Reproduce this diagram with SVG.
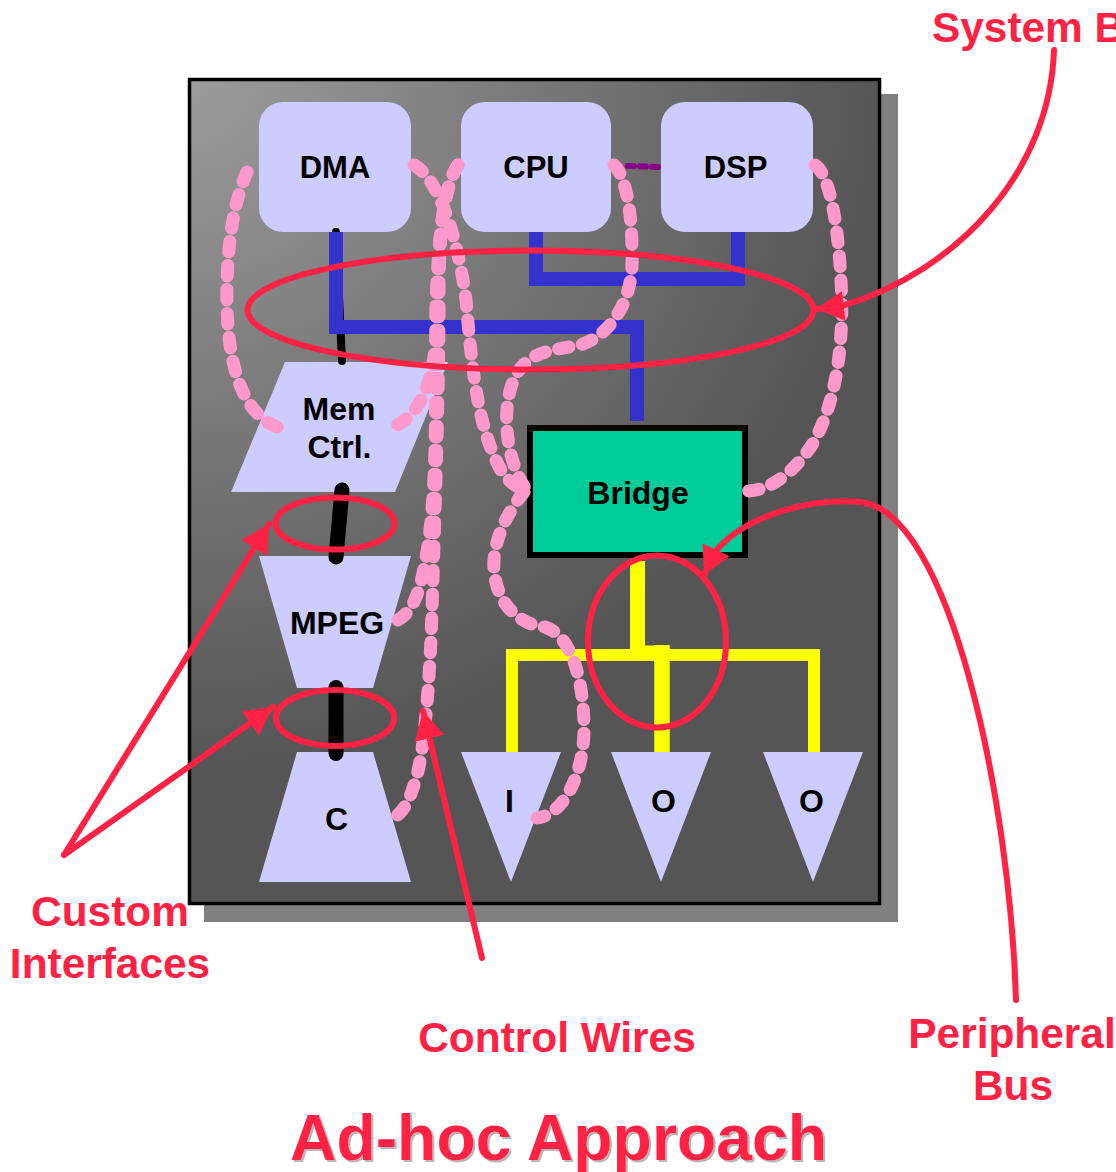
<svg xmlns="http://www.w3.org/2000/svg" width="1116" height="1172" viewBox="0 0 1116 1172">
<style>
text{font-family:"Liberation Sans",Arial,sans-serif;font-weight:bold}
.n{font-size:32px;fill:#000;text-anchor:middle}
.t{font-size:31px}
.s{fill:#ccf}
.l{font-size:42.400px;fill:#f24;text-anchor:middle}
.w{fill:none;stroke:#f9c;stroke-width:13;stroke-linecap:round;stroke-linejoin:round;stroke-dasharray:10.500 13.500}
.b{fill:none;stroke:#33c;stroke-width:14}
.k{fill:none;stroke:#000;stroke-linecap:round}
.e{fill:none;stroke:#f24;stroke-width:6}
.a{fill:none;stroke:#f24;stroke-width:6;stroke-linecap:round}
</style>
<defs>
<radialGradient id="bg" gradientUnits="userSpaceOnUse" cx="190" cy="80" r="770"><stop offset="0" stop-color="#9c9c9c"/><stop offset=".9" stop-color="#555"/></radialGradient>
<marker id="h" markerUnits="userSpaceOnUse" markerWidth="32" markerHeight="32" refX="28" refY="15" orient="auto"><path d="M0 0L28 15L0 30Z" fill="#f24"/></marker>
<filter id="sh" x="-5%" y="-10%" width="110%" height="125%"><feDropShadow dx="2" dy="2" stdDeviation=".5" flood-color="#b8b8b8"/></filter>
</defs>
<g id="panel">
<rect x="204" y="94" width="694" height="828" fill="#808080"/>
<rect x="189.500" y="79.500" width="690" height="824" fill="url(#bg)" stroke="#000" stroke-width="3.500"/>
</g>
<g id="dma"><rect class="s" x="259" y="102" width="152" height="130" rx="24"/><text class="n t" x="335" y="178">DMA</text></g>
<g id="cpu"><rect class="s" x="461" y="102" width="150" height="130" rx="24"/><text class="n t" x="536" y="178">CPU</text></g>
<g id="dsp"><rect class="s" x="661" y="102" width="152" height="130" rx="24"/><text class="n t" x="735.500" y="178">DSP</text></g>
<g id="memctrl"><polygon class="s" points="285,362 448,362 395,492 231,492"/><text class="n" x="339" y="420">Mem</text><text class="n" x="339.500" y="458">Ctrl.</text></g>
<g id="bridge"><rect x="530" y="428" width="215" height="127" fill="#0c9" stroke="#000" stroke-width="6"/><text class="n" x="638" y="504">Bridge</text></g>
<g id="mpeg"><polygon class="s" points="259,556 411,556 373,688 297,688"/><text class="n" x="337" y="634">MPEG</text></g>
<g id="c"><polygon class="s" points="297,752 373,752 411,882 259,882"/><text class="n" x="336.500" y="830">C</text></g>
<g id="i"><polygon class="s" points="461,752 561,752 511,882"/><text class="n" x="509.500" y="812">I</text></g>
<g id="o1"><polygon class="s" points="611,752 711,752 661,882"/><text class="n" x="663.500" y="812">O</text></g>
<g id="o2"><polygon class="s" points="763,752 863,752 813,882"/><text class="n" x="811.500" y="812">O</text></g>
<g id="connectors">
<path class="k" stroke-width="8" d="M336 232L342 361"/>
<path class="b" d="M336 232V327H637V421"/>
<path class="b" d="M536 232V279H738V232"/>
<path fill="none" stroke="#ff0" stroke-width="15" d="M637.500 561V655"/>
<path fill="none" stroke="#ff0" stroke-width="12" d="M512 752V655H814V752"/>
<path fill="none" stroke="#ff0" stroke-width="15.500" d="M662 752V645"/>
<path fill="none" stroke="#ff0" stroke-width="15" d="M630 653H669"/>
<path class="k" stroke-width="15" d="M342 490L336 557"/>
<path class="k" stroke-width="15" d="M336 687.500V753.500"/>
<path fill="none" stroke="#808" stroke-width="6" stroke-linecap="round" stroke-dasharray="6 6" d="M628 166L660 167"/>
<path class="w" d="M247 172C232 205 226 255 227 305C228 360 240 412 277 427"/>
<path class="w" d="M414 165C440 180 458 240 466 300C472 370 478 430 502 472Q512 486 527 491"/>
<path class="w" d="M458 165C442 190 439 240 438 300C437 350 433 410 393 427"/>
<path class="w" d="M458 165C442 190 439 240 436 300C435 380 438 480 428 545C422 585 415 615 393 622"/>
<path class="w" d="M458 165C442 190 439 240 439 300C439 400 434 540 432 610C430 680 424 760 414 785C408 805 400 815 393 818"/>
<path class="w" d="M614 165C628 178 633 225 632 265C631 300 612 335 580 345C555 350 530 350 516 375C500 405 505 460 527 491"/>
<path class="w" d="M524 492C505 515 492 545 494 570C497 605 520 625 545 627C570 635 583 675 584 725C585 770 565 815 537 818"/>
<path class="w" d="M815 165C830 175 838 225 841 280C844 340 838 395 815 440C800 465 775 490 748 491"/>
</g>
<g id="annotations">
<ellipse class="e" cx="530.500" cy="310" rx="283" ry="59.500"/>
<ellipse class="e" cx="657" cy="641.500" rx="69" ry="86"/>
<ellipse class="e" cx="335" cy="523.500" rx="59.500" ry="26"/>
<ellipse class="e" cx="335" cy="718" rx="59" ry="28"/>
<path class="a" marker-end="url(#h)" d="M1054 50C1050 170 960 270 842 306L816 309"/>
<path class="a" marker-end="url(#h)" d="M1016 1000C1010 800 950 510 860 502C810 498 745 515 715 552L704 575"/>
<path class="a" marker-end="url(#h)" d="M64 855L269 524"/>
<path class="a" marker-end="url(#h)" d="M64 855L273 707"/>
<path class="a" marker-end="url(#h)" d="M482 958L423 711"/>
</g>
<g id="labels">
<text class="l" x="932" y="42" style="text-anchor:start">System B</text>
<text class="l" x="110" y="926">Custom</text>
<text class="l" x="110" y="978">Interfaces</text>
<text class="l" x="557" y="1052">Control Wires</text>
<text class="l" x="1012" y="1048">Peripheral</text>
<text class="l" x="1013" y="1100">Bus</text>
<text x="558.500" y="1160" font-size="64.300" fill="#f24" text-anchor="middle" filter="url(#sh)">Ad-hoc Approach</text>
</g>
</svg>
